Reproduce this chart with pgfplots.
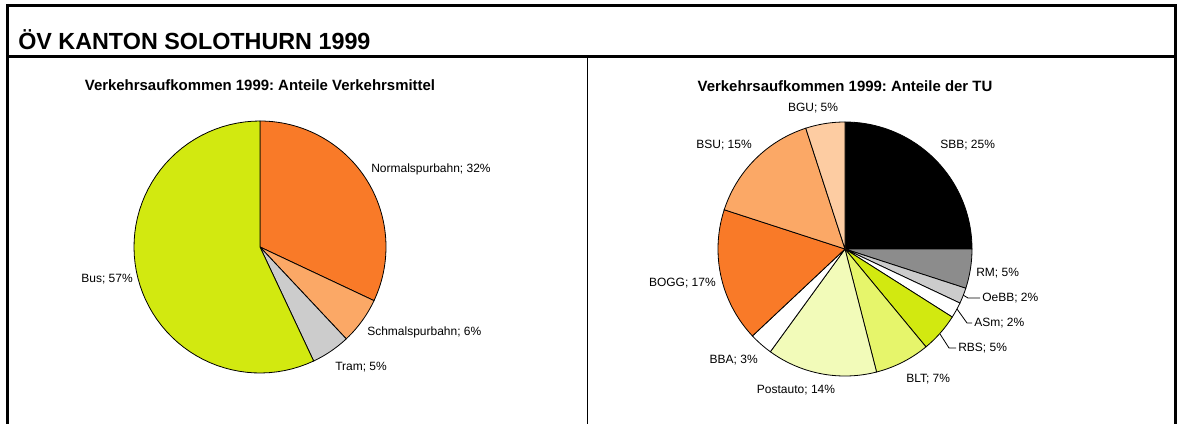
\documentclass[border=0pt]{standalone}
\usepackage{fontspec}
\setmainfont{Liberation Sans}
\usepackage{pgfplots}
\pgfplotsset{compat=1.18}
\frenchspacing
\definecolor{cOrange}{HTML}{F97A28}
\definecolor{cLOrange}{HTML}{FBA866}
\definecolor{cPeach}{HTML}{FDCCA2}
\definecolor{cGreen}{HTML}{D2E910}
\definecolor{cLGreen}{HTML}{E6F56B}
\definecolor{cPale}{HTML}{F2FBB9}
\definecolor{cGrey}{HTML}{8C8C8C}
\definecolor{cLGrey}{HTML}{CCCCCC}

\def\cum{0}
\newcommand\pieslice[2]{% value (percent), colour
  \pgfmathsetmacro\sA{90-3.6*(\cum+#1)}%
  \pgfmathsetmacro\sB{90-3.6*\cum}%
  \edef\doslice{\noexpand\addplot[draw=black, line width=0.6pt, fill=#2, domain=\sA:\sB, samples=60, variable=\noexpand\t] ({cos(\noexpand\t)},{sin(\noexpand\t)}) -- (axis cs:0,0) -- cycle;}%
  \doslice
  \pgfmathsetmacro\newcum{\cum+#1}\global\let\cum\newcum
}
\pgfplotsset{pie/.style={hide axis, scale only axis, xmin=-1, xmax=1, ymin=-1, ymax=1, clip=false, anchor=center}}

\begin{document}
\frenchspacing
\begin{tikzpicture}[x=0.75pt, y=-0.75pt]
\useasboundingbox (0,0) rectangle (1181,424);
% frame
\draw[line width=2.25pt] (7.5,432) -- (7.5,6) -- (1175.5,6) -- (1175.5,432);
\draw[line width=2.25pt] (7.5,57) -- (1175.5,57);
\draw[line width=0.8pt] (587.5,57) -- (587.5,432);
\node[anchor=base west, inner sep=0pt, font=\fontsize{17.5}{20}\selectfont\bfseries] at (18,50) {ÖV KANTON SOLOTHURN 1999};
\node[anchor=base, inner sep=0pt, font=\fontsize{11.2}{13}\selectfont\bfseries] at (260,91) {Verkehrsaufkommen 1999: Anteile Verkehrsmittel};
\node[anchor=base, inner sep=0pt, font=\fontsize{11.2}{13}\selectfont\bfseries] at (845,92) {Verkehrsaufkommen 1999: Anteile der TU};

% left pie (centre 260,247 px)
\begin{axis}[pie, at={(195pt,-185.25pt)}, width=189pt, height=189pt]
\gdef\cum{0}
\pieslice{32}{cOrange}
\pieslice{6}{cLOrange}
\pieslice{5}{cLGrey}
\pieslice{57}{cGreen}
\end{axis}

% right pie (centre 845,249 px)
\begin{axis}[pie, at={(633.75pt,-186.75pt)}, width=190.5pt, height=190.5pt]
\gdef\cum{0}
\pieslice{25}{black}
\pieslice{5}{cGrey}
\pieslice{2}{cLGrey}
\pieslice{2}{white}
\pieslice{5}{cGreen}
\pieslice{7}{cLGreen}
\pieslice{14}{cPale}
\pieslice{3}{white}
\pieslice{17}{cOrange}
\pieslice{15}{cLOrange}
\pieslice{5}{cPeach}
\end{axis}

\begin{scope}[every node/.style={inner sep=0pt, font=\fontsize{9}{11}\selectfont}]
\node[anchor=base west] at (371,172) {Normalspurbahn; 32\%};
\node[anchor=base west] at (367,335) {Schmalspurbahn; 6\%};
\node[anchor=base west] at (335,370) {Tram; 5\%};
\node[anchor=base east] at (133,282) {Bus; 57\%};

\node[anchor=base] at (813,112) {BGU; 5\%};
\node[anchor=base east] at (752,149) {BSU; 15\%};
\node[anchor=base west] at (940,149) {SBB; 25\%};
\node[anchor=base west] at (976,276) {RM; 5\%};
\node[anchor=base west] at (982,301) {OeBB; 2\%};
\node[anchor=base west] at (974,326) {ASm; 2\%};
\node[anchor=base west] at (958,351) {RBS; 5\%};
\node[anchor=base west] at (906,382) {BLT; 7\%};
\node[anchor=base] at (796,393) {Postauto; 14\%};
\node[anchor=base east] at (758,363) {BBA; 3\%};
\node[anchor=base east] at (716,286) {BOGG; 17\%};
\end{scope}
\draw[line width=0.6pt] (963,295) -- (968,298) -- (980,298);
\draw[line width=0.6pt] (957,309) -- (967,323) -- (972,323);
\draw[line width=0.6pt] (940,334) -- (949,348) -- (956,348);
\end{tikzpicture}
\end{document}
